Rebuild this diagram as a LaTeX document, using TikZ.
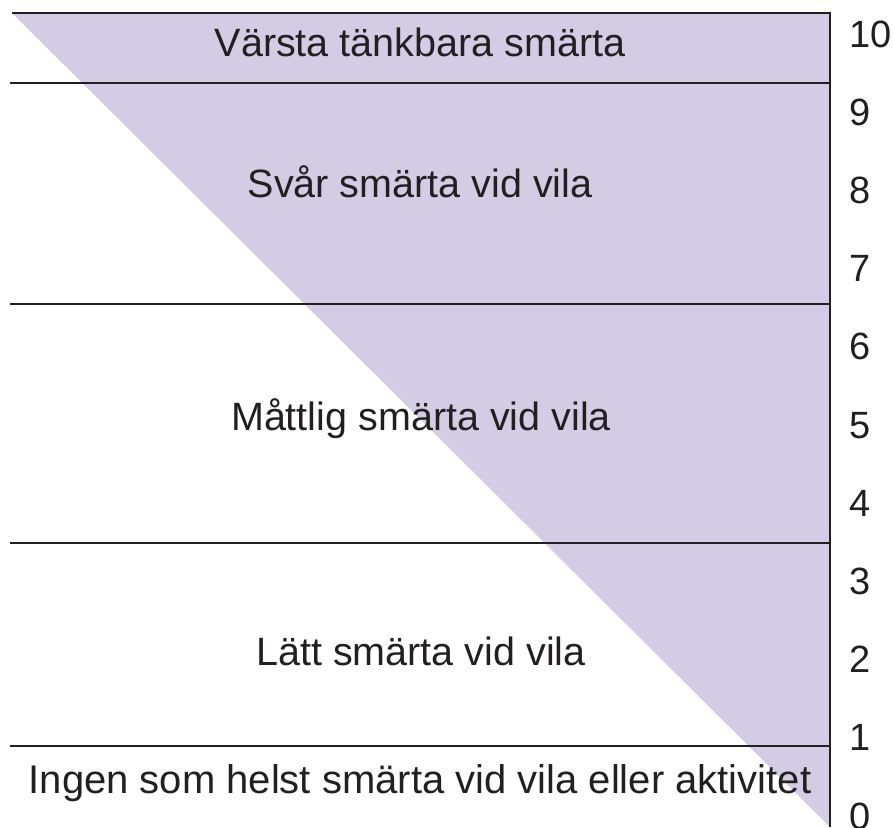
\documentclass[tikz,border=0pt]{standalone}
\usepackage{fontspec}
\setmainfont{Liberation Sans}
\usepackage{xcolor}

\definecolor{painfill}{RGB}{211,204,228}
\definecolor{inkgray}{RGB}{35,31,32}

\begin{document}
\begin{tikzpicture}[x=1pt, y=-1pt, line width=2.9pt, inkgray]
\tikzset{band/.style={anchor=base, inner sep=0pt, font=\fontsize{39.5}{40}\selectfont}}
\tikzset{tick/.style={anchor=base west, inner sep=0pt, font=\fontsize{38}{40}\selectfont}}
\useasboundingbox (0,0) rectangle (893,827);

\coordinate (TL) at (12,13);
\coordinate (TR) at (830,13);
\coordinate (BR) at (830,827);

% shaded wedge
\fill[painfill] (TL) -- (TR) -- (BR) -- cycle;

% band borders
\foreach \y/\n in {83/a, 304/b, 543/c, 746/d} {
  \coordinate (L\n) at (10,\y);
  \coordinate (R\n) at (830,\y);
  \draw (L\n) -- (R\n);
}
\draw (TL) -- (TR) -- (BR);

\node[band] (worst)    at (420,56)  {Värsta tänkbara smärta};
\node[band] (severe)   at (420,197) {Svår smärta vid vila};
\node[band] (moderate) at (421,430) {Måttlig smärta vid vila};
\node[band] (mild)     at (421,665) {Lätt smärta vid vila};
\node[band, font=\fontsize{40}{40}\selectfont] (none) at (420,793) {Ingen som helst smärta vid vila eller aktivitet};

% scale
\foreach \k in {0,...,10}
  \node[tick] (n\k) at (848,{47+(10-\k)*78.2}) {\k};
\end{tikzpicture}
\end{document}
